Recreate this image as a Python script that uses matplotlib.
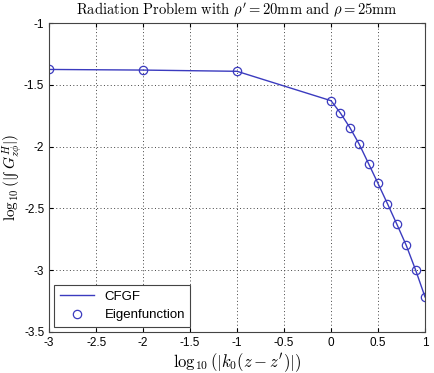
import numpy as np
import matplotlib.pyplot as plt

plt.rcParams['mathtext.fontset'] = 'cm'
plt.rcParams['font.family'] = ['Liberation Serif', 'DejaVu Serif']

# data
x = [-3, -2, -1, 0, 0.1, 0.2, 0.3, 0.4, 0.5, 0.6, 0.7, 0.8, 0.9, 1.0]
cfgf = [-1.375, -1.38, -1.39, -1.628, -1.728, -1.845, -1.98, -2.138,
        -2.298, -2.461, -2.627, -2.798, -2.998, -3.216]
eigen = cfgf

col = '#3b3bbf'
sans = ['Liberation Sans', 'DejaVu Sans']

fig = plt.figure(figsize=(4.35, 3.73), dpi=100)
ax = fig.add_axes([0.113, 0.110, 0.864, 0.828])
ax.plot(x, cfgf, '-', color=col, linewidth=1, label='CFGF')
ax.plot(x, eigen, 'o', color=col, markerfacecolor='none', markersize=6,
        markeredgewidth=0.9, label='Eigenfunction')

ax.set_xlim(-3, 1)
ax.set_ylim(-3.5, -1)
ax.set_xticks(np.arange(-3, 1.01, 0.5))
ax.set_xticklabels(['-3', '-2.5', '-2', '-1.5', '-1', '-0.5', '0', '0.5', '1'],
                   family=sans)
ax.set_yticks(np.arange(-3.5, -0.99, 0.5))
ax.set_yticklabels(['-3.5', '-3', '-2.5', '-2', '-1.5', '-1'], family=sans)
ax.tick_params(direction='in', top=True, right=True, labelsize=8.5, length=3)
ax.grid(True, linestyle=(0, (1, 2.5)), color='#444444', linewidth=0.7)
for s in ax.spines.values():
    s.set_color('#444444')

ax.set_title(r"$\mathrm{Radiation\ Problem\ with\ }\rho^{\prime}=20\mathrm{mm\ and\ }\rho=25\mathrm{mm}$",
             fontsize=10.5, pad=6)
ax.set_xlabel(r"$\log_{10}(|k_0(z-z^{\prime})|)$", fontsize=12, labelpad=2)
ax.set_ylabel(r"$\log_{10}(|$" + "\u222b " + r"$G^{H}_{z\phi}|)$", fontsize=11)
ax.yaxis.set_label_coords(-0.068, 0.5)

leg = ax.legend(loc='lower left', prop={'family': sans, 'size': 9.5},
                fancybox=False, edgecolor='#444444',
                framealpha=1, borderaxespad=0.4, handlelength=2.6)
leg.get_frame().set_linewidth(0.8)

plt.savefig('out.png')
